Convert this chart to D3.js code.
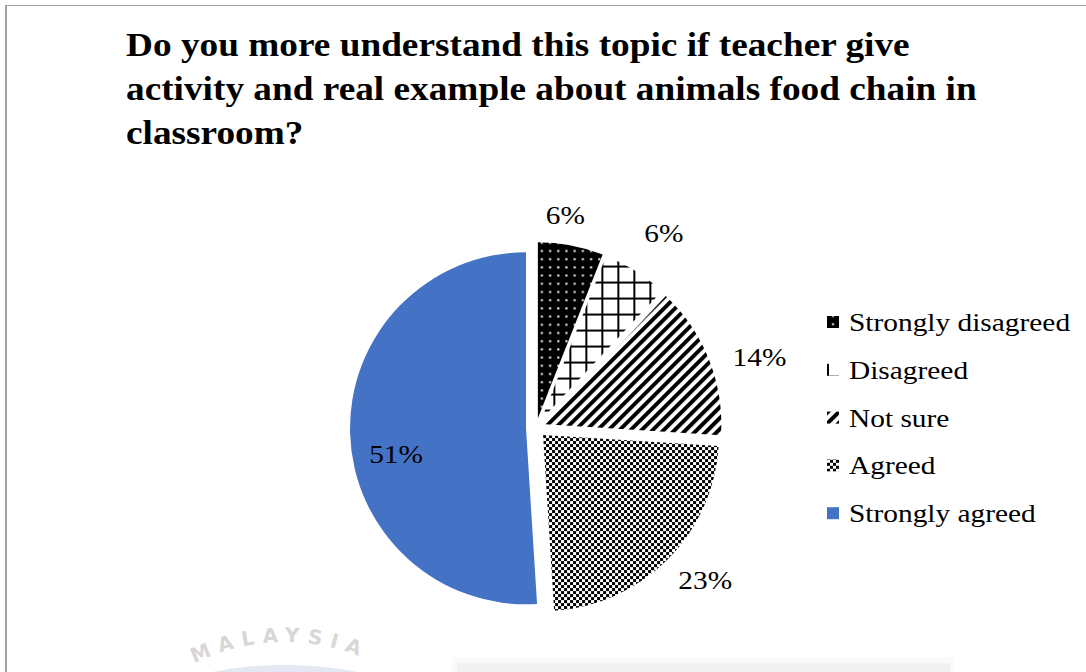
<!DOCTYPE html>
<html>
<head>
<meta charset="utf-8">
<script src="https://cdn.jsdelivr.net/npm/d3@7/dist/d3.min.js"></script>
<style>
  html, body { margin: 0; padding: 0; background: #fff; }
  svg { display: block; }
</style>
</head>
<body>
<svg id="chart" width="1086" height="672"></svg>
<script>
// Survey answers
const categories = ["Strongly disagreed", "Disagreed", "Not sure", "Agreed", "Strongly agreed"];
const values = [6, 6, 14, 23, 51];
const valueLabels = ["6%", "6%", "14%", "23%", "51%"];
const titleLines = [
  "Do you more understand this topic if teacher give",
  "activity and real example about animals food chain in",
  "classroom?"
];

const svg = d3.select("#chart");
const W = 1086, H = 672;
const serif = "'Liberation Serif', 'Times New Roman', serif";
const stretch = 1.13;   // wide serif glyphs

// ---------- fill patterns ----------
const defs = svg.append("defs");

// black with white dots
function dotsPattern(id, x, y) {
  const p = defs.append("pattern").attr("id", id).attr("patternUnits", "userSpaceOnUse")
    .attr("x", x).attr("y", y).attr("width", 8.2).attr("height", 8.2);
  p.append("rect").attr("width", 8.2).attr("height", 8.2).attr("fill", "#000");
  p.append("rect").attr("x", 3).attr("y", 3).attr("width", 2).attr("height", 2).attr("fill", "#fff");
}
// open grid
function gridPattern(id, x, y) {
  const p = defs.append("pattern").attr("id", id).attr("patternUnits", "userSpaceOnUse")
    .attr("x", x).attr("y", y).attr("width", 16).attr("height", 16);
  p.append("rect").attr("width", 16).attr("height", 16).attr("fill", "#fff");
  p.append("rect").attr("x", 0).attr("y", 0).attr("width", 2).attr("height", 16).attr("fill", "#000");
  p.append("rect").attr("x", 0).attr("y", 14).attr("width", 16).attr("height", 2).attr("fill", "#000");
}
// wide upward diagonal stripes
function stripePattern(id, x, y) {
  const p = defs.append("pattern").attr("id", id).attr("patternUnits", "userSpaceOnUse")
    .attr("x", x).attr("y", y).attr("width", 7.8).attr("height", 7.8)
    .attr("patternTransform", "rotate(45)");
  p.append("rect").attr("width", 7.8).attr("height", 7.8).attr("fill", "#fff");
  p.append("rect").attr("width", 4).attr("height", 7.8).attr("fill", "#000");
}
// small checkerboard
function checkerPattern(id, x, y) {
  const p = defs.append("pattern").attr("id", id).attr("patternUnits", "userSpaceOnUse")
    .attr("x", x).attr("y", y).attr("width", 6).attr("height", 6);
  p.append("rect").attr("width", 6).attr("height", 6).attr("fill", "#fff");
  p.append("rect").attr("width", 3).attr("height", 3).attr("fill", "#000");
  p.append("rect").attr("x", 3).attr("y", 3).attr("width", 3).attr("height", 3).attr("fill", "#000");
}

dotsPattern("p-dots", 0, 1);
gridPattern("p-grid", 12, 8);
stripePattern("p-stripe", 0, 0);
checkerPattern("p-check", 0, 0);

const fills = ["url(#p-dots)", "url(#p-grid)", "url(#p-stripe)", "url(#p-check)", "#4472C4"];

// ---------- frame ----------
svg.append("line").attr("x1", 6).attr("y1", 5).attr("x2", 6).attr("y2", H)
  .attr("stroke", "#a3a3a3").attr("stroke-width", 2);
svg.append("line").attr("x1", 6).attr("y1", 5.5).attr("x2", W).attr("y2", 5.5)
  .attr("stroke", "#a3a3a3").attr("stroke-width", 1);

// ---------- title ----------
const title = svg.append("text")
  .attr("transform", `translate(126,0) scale(${stretch},1)`)
  .attr("font-family", serif).attr("font-weight", "bold").attr("font-size", 33)
  .attr("fill", "#000");
titleLines.forEach((t, i) => {
  title.append("tspan").attr("x", 0).attr("y", 56 + i * 44).text(t);
});

// ---------- pie ----------
const cx = 536, cy = 428, R = 176, explode = 10;
const pie = d3.pie().sort(null).value(d => d)(values);
const arc = d3.arc().innerRadius(0).outerRadius(R);

const mid = d => (d.startAngle + d.endAngle) / 2;
const g = svg.append("g").attr("transform", `translate(${cx},${cy})`);

g.selectAll("path.slice")
  .data(pie)
  .join("path")
  .attr("class", "slice")
  .attr("transform", d => `translate(${Math.sin(mid(d)) * explode},${-Math.cos(mid(d)) * explode})`)
  .attr("d", arc)
  .attr("fill", (d, i) => fills[i]);

// data labels
const labelRadius = [215, 233, 235, 228, 146];
const labelNudge = [[-11, -2], [3, 2], [5, 16], [8, -9], [6, 22]];
g.selectAll("text.lbl")
  .data(pie)
  .join("text")
  .attr("class", "lbl")
  .attr("transform", (d, i) => {
    const x = Math.sin(mid(d)) * labelRadius[i] + labelNudge[i][0];
    const y = -Math.cos(mid(d)) * labelRadius[i] + labelNudge[i][1];
    return `translate(${x},${y}) scale(${stretch},1)`;
  })
  .attr("text-anchor", "middle")
  .attr("dominant-baseline", "central")
  .attr("font-family", serif).attr("font-size", 26).attr("fill", "#000")
  .text((d, i) => valueLabels[i]);

// ---------- legend ----------
const legX = 827, legY0 = 322, legStep = 47.8, sw = 12;
const legFills = [];
categories.forEach((c, i) => {
  const y = legY0 + i * legStep - sw / 2;
  let f;
  if (i === 0) {
    dotsPattern("l0", legX + 2, y + 2); f = "url(#l0)";
  } else if (i === 1) {
    gridPattern("l1", legX, y - 4); f = "url(#l1)";
  } else if (i === 2) {
    stripePattern("l2", legX + 2, y); f = "url(#l2)";
  } else if (i === 3) {
    checkerPattern("l3", legX, y); f = "url(#l3)";
  } else {
    f = fills[4];
  }
  legFills.push(f);
});

const leg = svg.append("g");
const rows = leg.selectAll("g.row").data(categories).join("g").attr("class", "row")
  .attr("transform", (d, i) => `translate(0,${legY0 + i * legStep})`);
rows.append("rect")
  .attr("x", legX).attr("y", -sw / 2).attr("width", sw).attr("height", sw)
  .attr("fill", (d, i) => legFills[i]);
rows.append("text")
  .attr("transform", `translate(${legX + 22},0) scale(${stretch},1)`)
  .attr("dominant-baseline", "central")
  .attr("font-family", serif).attr("font-size", 26).attr("fill", "#000")
  .text(d => d);

// ---------- faint page marks along the bottom ----------
const wm = svg.append("g").attr("opacity", 0.45);
wm.append("circle").attr("cx", 285).attr("cy", 1045).attr("r", 380).attr("fill", "#c3cde4");
wm.append("path").attr("id", "wm-arc")
  .attr("d", "M 85 842 A 200 200 0 0 1 485 842")
  .attr("fill", "none");
wm.append("text").attr("font-family", "'DejaVu Sans', sans-serif").attr("font-weight", "bold")
  .attr("font-size", 20).attr("fill", "#a8a8a8").attr("letter-spacing", 8)
  .append("textPath").attr("href", "#wm-arc").attr("startOffset", "35%").text("MALAYSIA");

svg.append("rect").attr("x", 452).attr("y", 657).attr("width", 502).attr("height", 20)
  .attr("fill", "#fafafa");
svg.append("rect").attr("x", 457).attr("y", 663).attr("width", 493).attr("height", 12)
  .attr("fill", "#f1f1f1");
</script>
</body>
</html>
